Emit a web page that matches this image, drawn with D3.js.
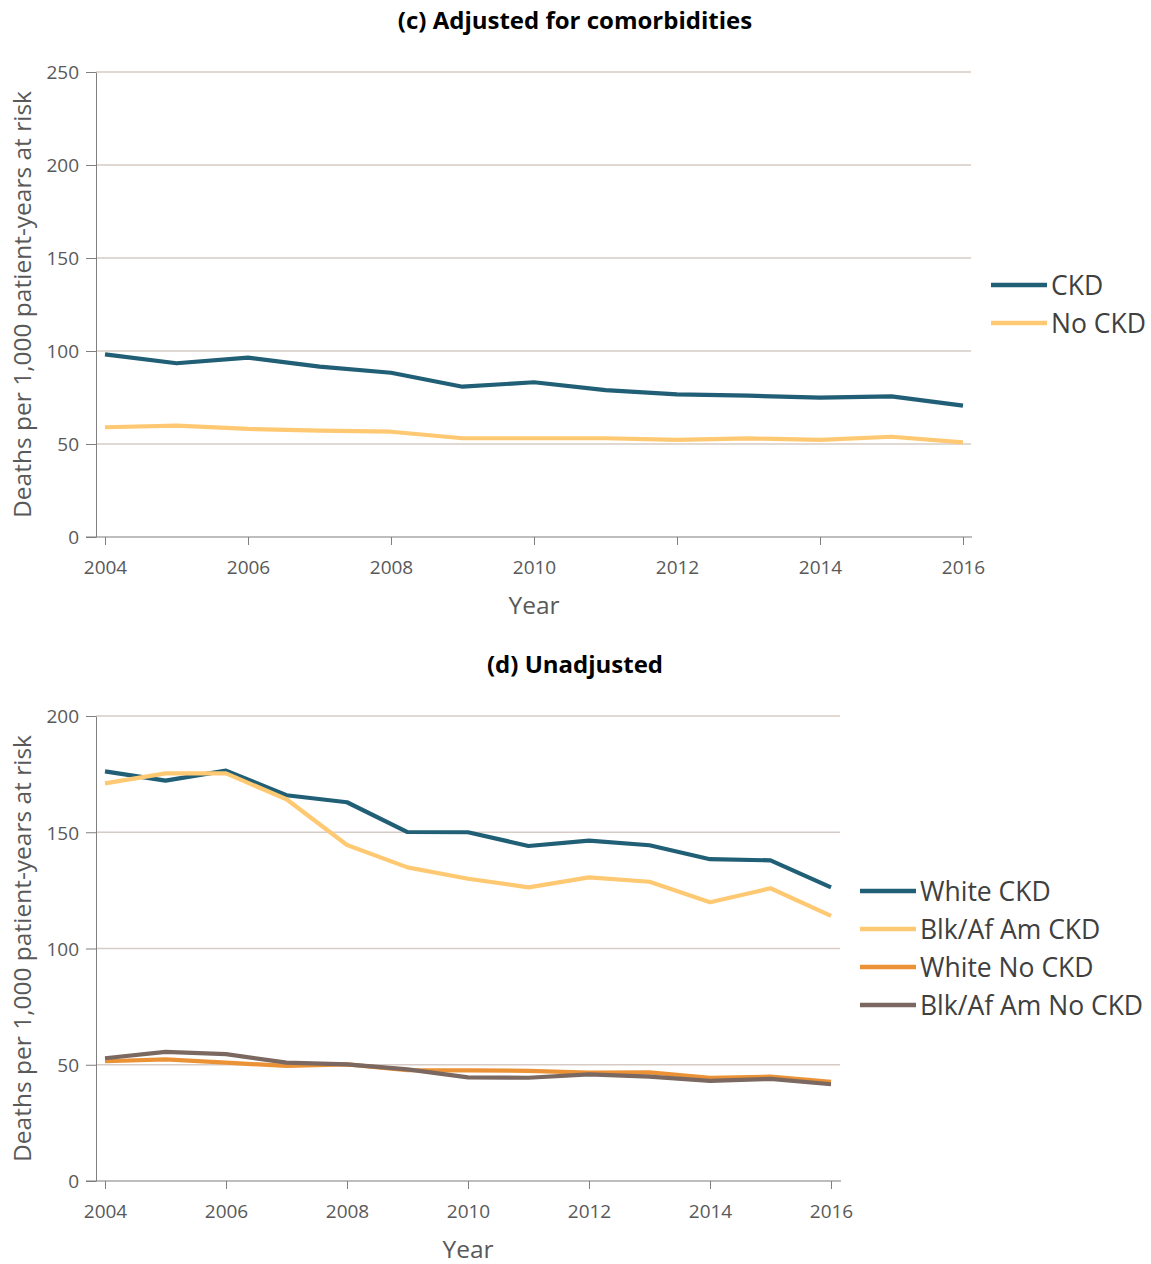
<!DOCTYPE html>
<html>
<head>
<meta charset="utf-8">
<script src="https://cdn.jsdelivr.net/npm/d3@7"></script>
<style>
  body { margin: 0; background: #fff; }
  svg { display: block; font-family: "Open Sans", "Noto Sans", sans-serif; }
  .title { font-weight: 700; font-size: 24px; fill: #000; }
  .axis-title { fill: #595959; font-size: 24.5px; }
  .legend text { fill: #404040; font-size: 26.5px; }
</style>
</head>
<body>
<svg id="chart" width="1151" height="1264"></svg>
<script>
// data
const years = [2004, 2005, 2006, 2007, 2008, 2009, 2010, 2011, 2012, 2013, 2014, 2015, 2016];

// (c) adjusted for comorbidities
const ckdAdj   = [98.2, 93.4, 96.4, 91.6, 88.3, 80.8, 83.2, 79.0, 76.7, 76.0, 74.9, 75.6, 70.6];
const noCkdAdj = [59.0, 59.9, 58.1, 57.2, 56.6, 53.1, 53.1, 53.1, 52.2, 53.0, 52.2, 53.9, 50.9];

// (d) unadjusted
const whiteCkd   = [176.2, 172.2, 176.5, 165.9, 162.9, 150.1, 150.0, 144.1, 146.4, 144.4, 138.4, 137.9, 126.3];
const blackCkd   = [171.0, 175.3, 175.3, 164.2, 144.5, 134.9, 130.0, 126.3, 130.6, 128.7, 119.9, 125.9, 114.0];
const whiteNoCkd = [51.5, 52.3, 50.9, 49.5, 50.2, 47.7, 47.6, 47.4, 46.6, 46.7, 44.4, 44.9, 42.7];
const blackNoCkd = [52.8, 55.5, 54.6, 50.9, 50.2, 48.0, 44.6, 44.4, 45.9, 44.9, 43.1, 43.9, 41.6];

const xTicks = [2004, 2006, 2008, 2010, 2012, 2014, 2016];
const yTicksC = [0, 50, 100, 150, 200, 250];
const yTicksD = [0, 50, 100, 150, 200];

const colors = {
    teal: '#215f76',
    yellow: '#fec972',
    orange: '#ec9236',
    brown: '#7b6861'
};

const svg = d3.select('#chart');

function styleTicks(axisG) {
    axisG.attr('font-family', '"Open Sans", "Noto Sans", sans-serif')
        .attr('font-size', 19);
    axisG.selectAll('.tick line').attr('stroke', '#7f7f7f');
    axisG.selectAll('.tick text').attr('fill', '#595959');
}

function drawPanel(opts) {
    const x = d3.scaleLinear()
        .domain([2004, 2016])
        .range([105, opts.xEnd]);

    const y = d3.scaleLinear()
        .domain([0, opts.yMax])
        .range([opts.bottom, opts.top]);

    const g = svg.append('g');

    // title
    g.append('text')
        .attr('class', 'title')
        .attr('x', 575)
        .attr('y', opts.top - 43)
        .attr('text-anchor', 'middle')
        .text(opts.title);

    // gridlines
    g.append('g')
        .selectAll('line')
        .data(opts.yTicks.filter(d => d > 0))
        .join('line')
        .attr('x1', 96)
        .attr('x2', opts.gridEnd)
        .attr('y1', d => y(d))
        .attr('y2', d => y(d))
        .attr('stroke', '#d6cbc5')
        .attr('stroke-width', 1.3);

    // y axis
    const yAxis = g.append('g')
        .attr('transform', 'translate(96,0)')
        .call(d3.axisLeft(y).tickValues(opts.yTicks).tickSize(10).tickPadding(7).tickSizeOuter(0));
    yAxis.select('.domain').attr('stroke', '#7f7f7f');
    styleTicks(yAxis);
    yAxis.selectAll('.tick text').attr('dy', '0.36em');

    // x axis
    const xAxis = g.append('g')
        .attr('transform', `translate(0,${opts.bottom})`)
        .call(d3.axisBottom(x).tickValues(xTicks).tickFormat(d3.format('d')).tickSize(8).tickPadding(16));
    xAxis.select('.domain').remove();
    styleTicks(xAxis);
    xAxis.append('line')
        .attr('x1', 86)
        .attr('x2', opts.gridEnd + 1)
        .attr('stroke', '#7f7f7f')
        .attr('stroke-width', 1.2);

    // axis titles
    g.append('text')
        .attr('class', 'axis-title')
        .attr('transform', `translate(31,${(opts.top + opts.bottom) / 2}) rotate(-90)`)
        .attr('text-anchor', 'middle')
        .text('Deaths per 1,000 patient-years at risk');

    g.append('text')
        .attr('class', 'axis-title')
        .attr('x', (105 + opts.xEnd) / 2)
        .attr('y', opts.bottom + 77)
        .attr('text-anchor', 'middle')
        .text('Year');

    // lines
    const line = d3.line()
        .x((d, i) => x(years[i]))
        .y(d => y(d));

    g.append('g')
        .selectAll('path')
        .data(opts.series)
        .join('path')
        .attr('d', d => line(d.values))
        .attr('fill', 'none')
        .attr('stroke', d => d.color)
        .attr('stroke-width', 4.2)
        .attr('stroke-linejoin', 'round');

    // legend
    const legend = g.append('g')
        .attr('class', 'legend')
        .attr('transform', `translate(${opts.legendX},${opts.legendY})`);

    const items = legend.selectAll('g')
        .data(opts.series)
        .join('g')
        .attr('transform', (d, i) => `translate(0,${i * 38})`);

    items.append('line')
        .attr('x1', 0)
        .attr('x2', 56)
        .attr('stroke', d => d.color)
        .attr('stroke-width', 4.5);

    items.append('text')
        .attr('x', 60)
        .attr('dy', '0.36em')
        .text(d => d.name);
}

drawPanel({
    title: '(c) Adjusted for comorbidities',
    top: 72,
    bottom: 537,
    yMax: 250,
    yTicks: yTicksC,
    xEnd: 963,
    gridEnd: 971,
    legendX: 991,
    legendY: 285,
    series: [
        { name: 'CKD', values: ckdAdj, color: colors.teal },
        { name: 'No CKD', values: noCkdAdj, color: colors.yellow }
    ]
});

drawPanel({
    title: '(d) Unadjusted',
    top: 716,
    bottom: 1181,
    yMax: 200,
    yTicks: yTicksD,
    xEnd: 831,
    gridEnd: 840,
    legendX: 860,
    legendY: 891,
    series: [
        { name: 'White CKD', values: whiteCkd, color: colors.teal },
        { name: 'Blk/Af Am CKD', values: blackCkd, color: colors.yellow },
        { name: 'White No CKD', values: whiteNoCkd, color: colors.orange },
        { name: 'Blk/Af Am No CKD', values: blackNoCkd, color: colors.brown }
    ]
});
</script>
</body>
</html>
